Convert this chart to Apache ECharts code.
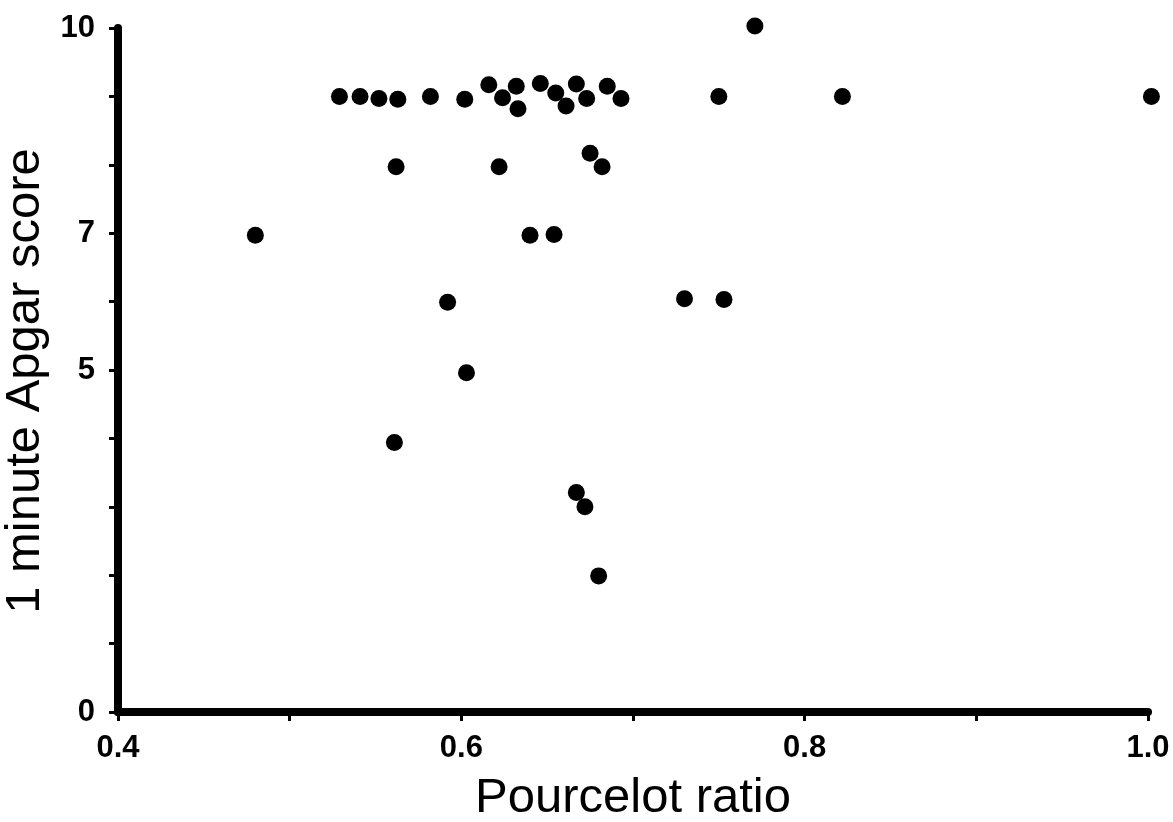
<!DOCTYPE html>
<html>
<head>
<meta charset="utf-8">
<script src="https://cdn.jsdelivr.net/npm/echarts@6/dist/echarts.min.js"></script>
<style>
html,body{margin:0;padding:0;background:#fff;}
#chart{width:1173px;height:822px;}
</style>
</head>
<body>
<div id="chart"></div>
<script>
// Pourcelot ratio (x) and 1 minute Apgar score (y)
const pourcelotRatio = [0.480,0.529,0.541,0.552,0.563,0.562,0.561,0.582,0.592,0.602,0.603,0.616,0.622,0.624,0.632,0.633,0.640,0.646,0.654,0.655,0.661,0.667,0.667,0.672,0.673,0.675,0.680,0.682,0.685,0.693,0.730,0.750,0.753,0.771,0.822,1.002];
const apgarScore     = [6.97,9.00,9.00,8.97,8.96,7.97,3.94,9.00,5.99,8.96,4.96,9.17,7.97,8.98,9.15,8.82,6.97,9.19,6.98,9.05,8.86,9.18,3.21,3.00,8.97,8.17,1.99,7.97,9.15,8.97,6.04,9.00,6.03,10.03,9.00,9.00];
const xLabelValues = ['0.4','0.6','0.8','1.0'];
const yLabelValues = [0,5,7,10];

const points = pourcelotRatio.map((x,i)=>[x, apgarScore[i]]);
const font = '"Liberation Sans", Arial, Helvetica, sans-serif';

const chart = echarts.init(document.getElementById('chart'));
chart.setOption({
  animation:false,
  backgroundColor:'#fff',
  grid:{left:118,right:25,top:28,bottom:110,containLabel:false,outerBoundsMode:'none'},
  xAxis:{
    type:'value',min:0.4,max:1.0,interval:0.1,
    name:'Pourcelot ratio',nameLocation:'middle',nameGap:62,
    nameTextStyle:{fontFamily:font,fontSize:49,color:'#000'},
    axisLine:{show:true,onZero:false,lineStyle:{color:'#000',width:8}},
    axisTick:{show:true,inside:false,length:9,lineStyle:{color:'#000',width:3}},
    axisLabel:{
      margin:21,fontFamily:font,fontSize:31,fontWeight:'bold',color:'#000',
      formatter:v=>{const s=v.toFixed(1);return xLabelValues.includes(s)?s:'';}
    },
    splitLine:{show:false}
  },
  yAxis:{
    type:'value',min:0,max:10,interval:1,
    name:'1 minute Apgar score',nameLocation:'middle',nameGap:54,nameRotate:90,
    nameTextStyle:{fontFamily:font,fontSize:49,color:'#000',padding:[0,22,0,0]},
    axisLine:{show:true,onZero:false,lineStyle:{color:'#000',width:8}},
    axisTick:{show:true,inside:false,length:9,lineStyle:{color:'#000',width:3}},
    axisLabel:{
      margin:23,fontFamily:font,fontSize:31,fontWeight:'bold',color:'#000',
      formatter:v=>yLabelValues.includes(Math.round(v))?String(Math.round(v)):''
    },
    splitLine:{show:false}
  },
  series:[{
    type:'scatter',
    data:points,
    symbol:'circle',
    symbolSize:17,
    itemStyle:{color:'#000',opacity:1},
    clip:false
  }]
});
</script>
</body>
</html>
